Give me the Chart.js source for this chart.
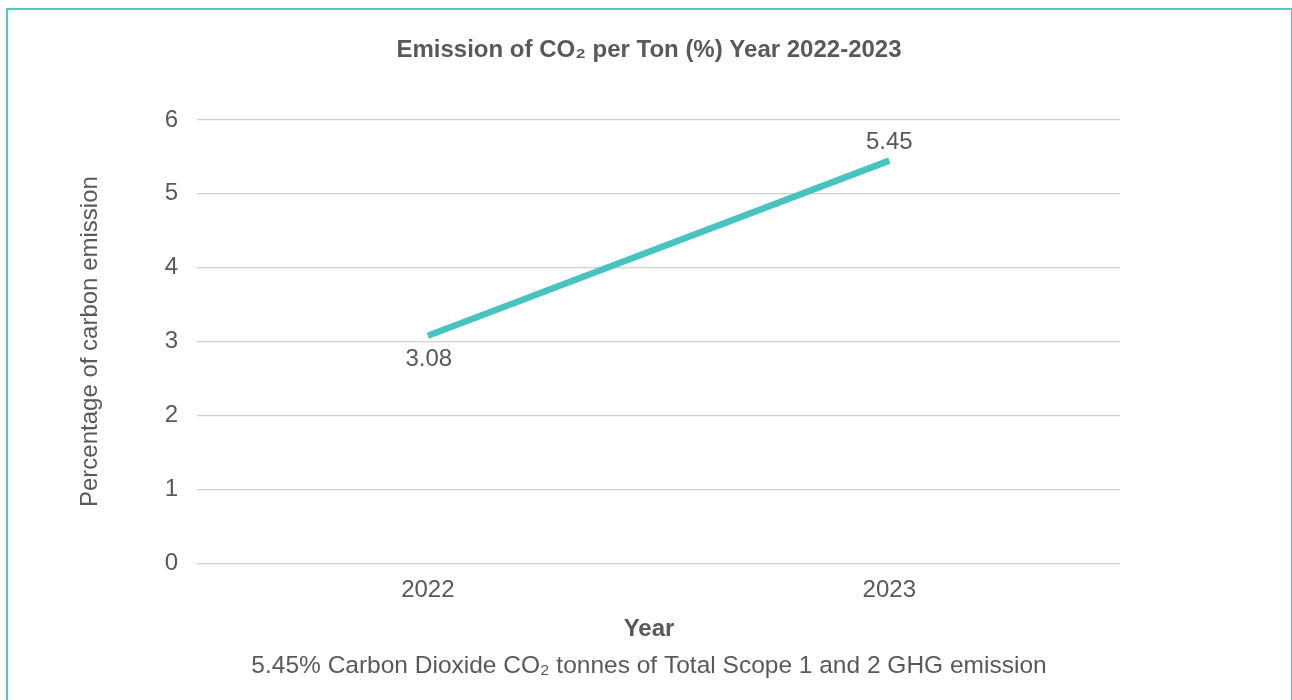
<!DOCTYPE html>
<html>
<head>
<meta charset="utf-8">
<script src="https://cdn.jsdelivr.net/npm/chart.js@4"></script>
<style>
  html, body { margin: 0; padding: 0; background: #fff; }
  #wrap { position: absolute; left: 0; top: 0; width: 1292px; height: 700px; }
  #frame { position: absolute; left: 6px; top: 8px; width: 1283px; height: 700px;
           border: 2px solid #4ecbc5; border-bottom: none; pointer-events: none; }
</style>
</head>
<body>
<div id="wrap"><canvas id="myChart" width="1292" height="700"></canvas></div>
<div id="frame"></div>
<script>
const years = ['2022', '2023'];
const emission = [3.08, 5.45];
const labelSide = ['below', 'above'];
const yTicks = [0, 1, 2, 3, 4, 5, 6];

const chartTitle = 'Emission of CO₂ per Ton (%) Year 2022-2023';
const xTitle = 'Year';
const yTitle = 'Percentage of carbon emission';
const caption = '5.45% Carbon Dioxide CO₂ tonnes of Total Scope 1 and 2 GHG emission';

const textColor = '#595959';
const fontFamily = '"Liberation Sans", Arial, Helvetica, sans-serif';

// value labels next to the points + texts centred on the whole canvas
const extraText = {
    id: 'extraText',
    afterDatasetsDraw(chart) {
        const c = chart.ctx;
        const meta = chart.getDatasetMeta(0);
        const mid = chart.width / 2 + 3;
        c.save();
        c.fillStyle = textColor;
        c.textAlign = 'center';
        c.font = '24px ' + fontFamily;
        meta.data.forEach((pt, i) => {
            if (labelSide[i] === 'below') {
                c.textBaseline = 'top';
                c.fillText(emission[i].toFixed(2), pt.x + 1, pt.y + 12);
            } else {
                c.textBaseline = 'bottom';
                c.fillText(emission[i].toFixed(2), pt.x, pt.y - 6);
            }
        });
        c.textBaseline = 'middle';
        c.font = 'bold 24px ' + fontFamily;
        c.fillText(chartTitle, mid, 50);
        c.fillText(xTitle, mid, 629);
        c.font = '24.5px ' + fontFamily;
        c.fillText(caption, mid, 666);
        c.restore();
    }
};

const ctx = document.getElementById('myChart');
new Chart(ctx, {
    type: 'line',
    data: {
        labels: years,
        datasets: [{
            label: 'Emission',
            data: emission,
            borderColor: '#48c4c0',
            borderWidth: 6.5,
            borderCapStyle: 'butt',
            pointRadius: 0,
            tension: 0
        }]
    },
    options: {
        responsive: false,
        animation: false,
        layout: { padding: { left: 76, right: 172, top: 120, bottom: 90 } },
        plugins: {
            legend: { display: false },
            tooltip: { enabled: false }
        },
        scales: {
            x: {
                offset: true,
                grid: { display: false },
                border: { display: false },
                ticks: {
                    color: textColor,
                    font: { family: fontFamily, size: 24 },
                    padding: 5
                }
            },
            y: {
                min: 0,
                max: 6,
                afterBuildTicks(axis) {
                    axis.ticks = yTicks.map(v => ({ value: v }));
                },
                grid: { color: '#d0d0d0', lineWidth: 1.3, drawTicks: false },
                border: { display: false },
                ticks: {
                    color: textColor,
                    font: { family: fontFamily, size: 24 },
                    padding: 19
                },
                title: {
                    display: true,
                    text: yTitle,
                    color: textColor,
                    font: { family: fontFamily, size: 24 },
                    padding: { top: 0, bottom: 41 }
                }
            }
        }
    },
    plugins: [extraText]
});
</script>
</body>
</html>
